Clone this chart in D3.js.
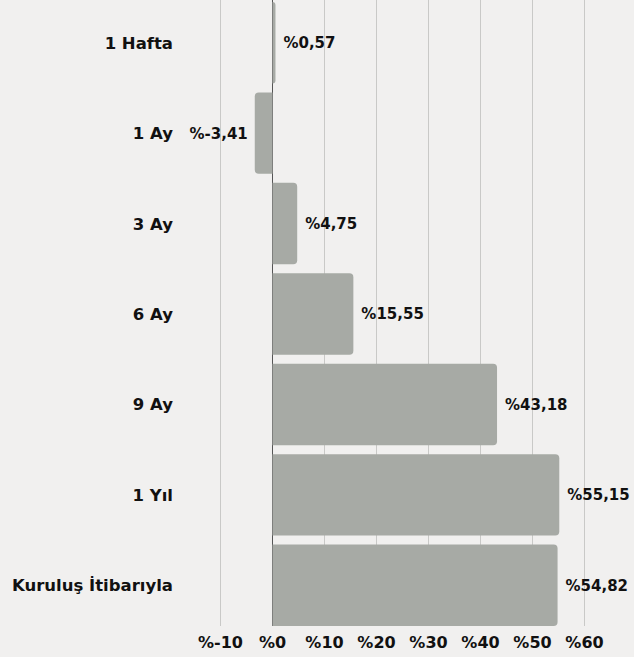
<!DOCTYPE html>
<html>
<head>
<meta charset="utf-8">
<script src="https://cdn.jsdelivr.net/npm/d3@7"></script>
<style>
  html, body { margin: 0; padding: 0; background: #f1f0ef; }
  svg text { font-family: "DejaVu Sans", sans-serif; font-weight: 700; fill: #111; }
</style>
</head>
<body>
<div id="canvas"></div>
<script>
var categories = ["1 Hafta", "1 Ay", "3 Ay", "6 Ay", "9 Ay", "1 Yıl", "Kuruluş İtibarıyla"];
var values = [0.57, -3.41, 4.75, 15.55, 43.18, 55.15, 54.82];
var tickValues = [-10, 0, 10, 20, 30, 40, 50, 60];

var width = 634;
var height = 657;

var svg = d3.select("#canvas").append("svg")
  .attr("width", width)
  .attr("height", height);

svg.append("rect").attr("width", width).attr("height", height).attr("fill", "#f1f0ef");

var x = d3.scaleLinear().domain([-10, 60]).range([220.5, 584.5]);
var y = d3.scaleBand().domain(categories).range([2, 626]).paddingInner(0.1).paddingOuter(0);

function fmt(v) {
  return "%" + v.toFixed(2).replace(".", ",");
}

// gridlines
svg.append("g").selectAll("line").data(tickValues).enter().append("line")
  .attr("x1", function(d){ return x(d); })
  .attr("x2", function(d){ return x(d); })
  .attr("y1", 0)
  .attr("y2", 626)
  .attr("stroke", function(d){ return d === 0 ? "#555" : "#c9c9c7"; })
  .attr("stroke-width", 1);

// bar with rounded far end only
function barPath(v, top, h) {
  var x0 = x(0), x1 = x(v), r = Math.min(4, Math.abs(x1 - x0));
  var s = v >= 0 ? -1 : 1;
  return "M" + x0 + "," + top + "H" + (x1 + s * r) + "Q" + x1 + "," + top + " " + x1 + "," + (top + r) +
    "V" + (top + h - r) + "Q" + x1 + "," + (top + h) + " " + (x1 + s * r) + "," + (top + h) + "H" + x0 + "Z";
}

svg.append("g").selectAll("path").data(values).enter().append("path")
  .attr("d", function(d, i){ return barPath(d, y(categories[i]), y.bandwidth()); })
  .attr("fill", "#a7aaa5");

// value labels
svg.append("g").selectAll("text").data(values).enter().append("text")
  .attr("x", function(d){ return d >= 0 ? x(d) + 8 : x(d) - 7; })
  .attr("y", function(d, i){ return y(categories[i]) + y.bandwidth() / 2; })
  .attr("dy", "0.36em")
  .attr("text-anchor", function(d){ return d >= 0 ? "start" : "end"; })
  .attr("font-size", 15)
  .text(fmt);

// category labels
svg.append("g").selectAll("text").data(categories).enter().append("text")
  .attr("x", 173)
  .attr("y", function(d){ return y(d) + y.bandwidth() / 2; })
  .attr("dy", "0.36em")
  .attr("text-anchor", "end")
  .attr("font-size", 16.5)
  .text(function(d){ return d; });

// x axis tick labels
svg.append("g").selectAll("text").data(tickValues).enter().append("text")
  .attr("x", function(d){ return x(d); })
  .attr("y", 648)
  .attr("text-anchor", "middle")
  .attr("font-size", 16)
  .text(function(d){ return "%" + d; });
</script>
</body>
</html>
